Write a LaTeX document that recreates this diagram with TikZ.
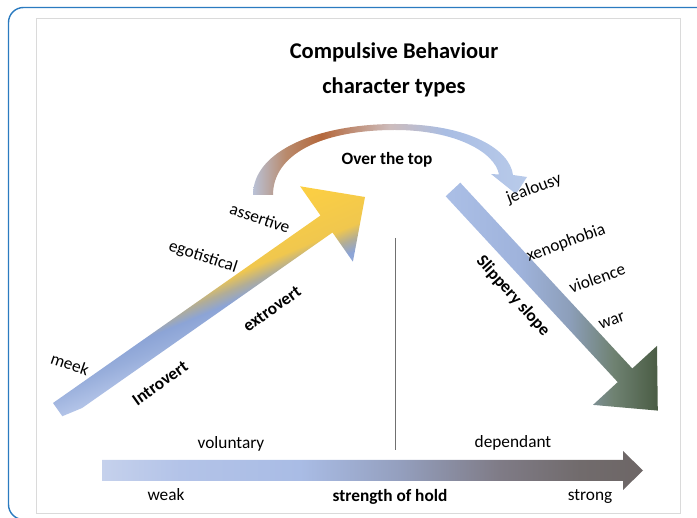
\documentclass[tikz,border=0pt]{standalone}
\usepackage{fontspec}
\setmainfont{Carlito}
\definecolor{frameblue}{HTML}{2B7BC0}
\definecolor{framegray}{HTML}{DADADA}
\definecolor{divgray}{HTML}{707070}
% over the top
\definecolor{otA}{HTML}{B9C1D6}
\definecolor{otB}{HTML}{B98A6C}
\definecolor{otC}{HTML}{B4683C}
\definecolor{otD}{HTML}{CDBCBC}
\definecolor{otE}{HTML}{A9BDE3}
\definecolor{otF}{HTML}{B9CBEA}
% rising
\definecolor{riA}{HTML}{B3C4E8}
\definecolor{riB}{HTML}{98AEDB}
\definecolor{riC}{HTML}{8CA4D6}
\definecolor{riD}{HTML}{B2AD96}
\definecolor{riE}{HTML}{F0C74E}
\definecolor{riF}{HTML}{FFD140}
% falling
\definecolor{faA}{HTML}{ABBFE6}
\definecolor{faB}{HTML}{9FB3DC}
\definecolor{faC}{HTML}{8D9FBB}
\definecolor{faD}{HTML}{6F8272}
\definecolor{faE}{HTML}{4A5C44}
% hold
\definecolor{hoA}{HTML}{C5D1EC}
\definecolor{hoB}{HTML}{B3C3E8}
\definecolor{hoC}{HTML}{A9BCE5}
\definecolor{hoD}{HTML}{949FBE}
\definecolor{hoE}{HTML}{7F7B86}
\definecolor{hoF}{HTML}{716B6C}
\definecolor{hoG}{HTML}{6D6666}
\pgfdeclarehorizontalshading{overtop}{100bp}{color(0bp)=(otA); color(25bp)=(otA);
color(31bp)=(otB); color(37.5bp)=(otC); color(50bp)=(otD); color(60bp)=(otE);
color(75bp)=(otF); color(100bp)=(otF)}
\pgfdeclareverticalshading{risefill}{100bp}{color(0bp)=(riA); color(25bp)=(riA);
color(34.6bp)=(riB); color(40.4bp)=(riC); color(45bp)=(riD); color(50bp)=(riE);
color(75bp)=(riF); color(100bp)=(riF)}
\pgfdeclarehorizontalshading{fallfill}{100bp}{color(0bp)=(faA); color(25bp)=(faA);
color(42.3bp)=(faB); color(54bp)=(faC); color(64.5bp)=(faD); color(75bp)=(faE);
color(100bp)=(faE)}
\pgfdeclarehorizontalshading{holdfill}{100bp}{color(0bp)=(hoA); color(25bp)=(hoA);
color(32.2bp)=(hoB); color(43.3bp)=(hoC); color(52.5bp)=(hoD); color(61.8bp)=(hoE);
color(69.2bp)=(hoF); color(75bp)=(hoG); color(100bp)=(hoG)}
\begin{document}
\begin{tikzpicture}
[x=0.25mm,y=0.25mm,
word/.style={font=\fontsize{12.3}{14}\selectfont,inner sep=0pt},
bword/.style={font=\bfseries\fontsize{12.3}{14}\selectfont,inner sep=0pt},
heading/.style={font=\bfseries\fontsize{16}{19}\selectfont,inner sep=0pt}]
\useasboundingbox (0,0) rectangle (697,518);
%%
% frames
%%
\begin{scope}
\clip (0,0) rectangle (697,518);
\draw[frameblue,line width=1pt,rounded corners=3.75mm] (8.5,510.5) rectangle (712,-1.5);
\end{scope}
\draw[framegray,line width=.6pt] (36.5,500) rectangle (680.5,5);
%%
% title
%%
\node[heading] (ttl1) at (394,466) {Compulsive Behaviour};
\node[heading] (ttl2) at (394,431) {character types};
%%
% over the top
%%
\shade[shading=overtop]
(253,323) .. controls (253,368) and (320,394) .. (395,394)
.. controls (470,394) and (510,368) .. (513,343)
-- (527,341) -- (516,324) -- (491,344) -- (499,343.5)
.. controls (495,366) and (455,388) .. (395,388)
.. controls (320,388) and (273,363) .. (273,323) -- cycle;
\node[bword] (otop) at (387,358) {Over the top};
%%
% rising arrow
%%
\begin{scope}
\clip (53,115) -- (320.5,302.5) -- (300.1,331.7) -- (365,321)
-- (352.9,256.3) -- (332.5,285.5) -- (65,98) -- cycle;
\begin{scope}[transform canvas={rotate=22.6}]
\shade[shading=risefill] (40,70) rectangle (510,200);
\end{scope}
\end{scope}
\node[word,rotate=-19] (meek) at (70,154) {meek};
\node[word,rotate=-18] (ego) at (203,261) {egotistical};
\node[word,rotate=-19] (assert) at (260,300) {assertive};
\node[bword,rotate=35.5] (intro) at (160,135) {Introvert};
\node[bword,rotate=35.5] (extro) at (272,209) {extrovert};
%%
% divider
%%
\coordinate (divtop) at (395,280);
\coordinate (divbot) at (395,68);
\draw[divgray,line width=.7pt] (divtop) -- (divbot);
%%
% slippery slope
%%
\shade[shading=fallfill] (460.3,335.3) -- (632.3,149.5) -- (657,172.1)
-- (657.8,107.4) -- (593,113.1) -- (617.7,135.9) -- (445.7,321.7) -- cycle;
\node[bword,rotate=-48] (slip) at (513,222) {Slippery slope};
\node[word,rotate=21] (jeal) at (534,329) {jealousy};
\node[word,rotate=20] (xeno) at (566,275) {xenophobia};
\node[word,rotate=20] (viol) at (597,240) {violence};
\node[word,rotate=20] (war) at (612,197) {war};
%%
% strength of hold
%%
\shade[shading=holdfill] (102,37) -- (623,37) -- (623,28) -- (643,47.5)
-- (623,67) -- (623,58) -- (102,58) -- cycle;
\node[word] (vol) at (231,74) {voluntary};
\node[word] (dep) at (513,75) {dependant};
\node[word] (weak) at (166,23) {weak};
\node[bword] (hold) at (390,21) {strength of hold};
\node[word] (strong) at (590,21) {strong};
\end{tikzpicture}
\end{document}
